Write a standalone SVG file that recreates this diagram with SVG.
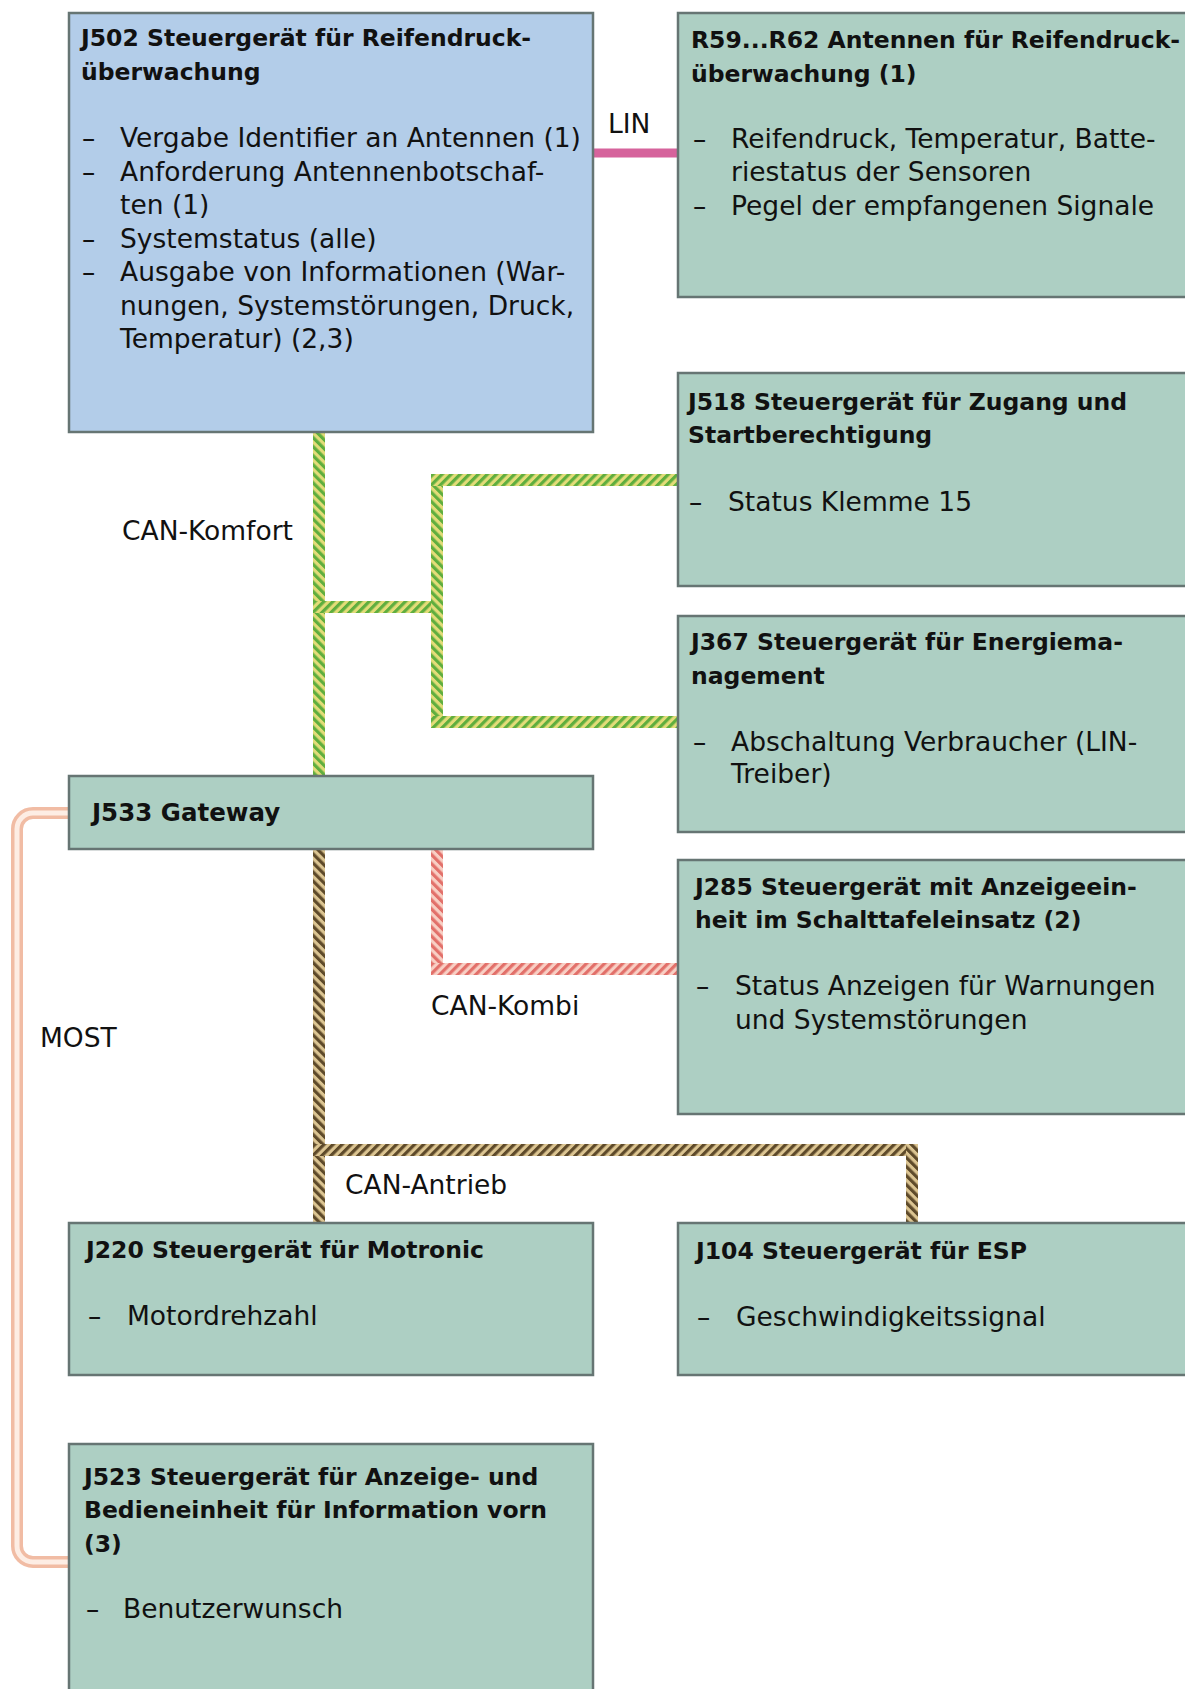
<svg xmlns="http://www.w3.org/2000/svg" width="1185" height="1689" viewBox="0 0 1185 1689">
<style>
.box{fill:#adcfc3;stroke:#667573;stroke-width:2.5}
.blue{fill:#b3cde9}
.t{font-family:"DejaVu Sans",sans-serif;font-weight:bold;font-size:23.5px;fill:#111}
.b{font-family:"DejaVu Sans",sans-serif;font-size:26.5px;fill:#111}
.l{font-family:"DejaVu Sans",sans-serif;font-size:26.5px;fill:#111}
</style>
<defs>
<pattern id="komH" patternUnits="userSpaceOnUse" width="6.4" height="6.4" patternTransform="rotate(45)"><rect width="6.4" height="6.4" fill="#e3dc78"/><rect width="3.2" height="6.4" fill="#5fae3e"/></pattern>
<pattern id="komV" patternUnits="userSpaceOnUse" width="6.4" height="6.4" patternTransform="rotate(-45)"><rect width="6.4" height="6.4" fill="#e3dc78"/><rect width="3.2" height="6.4" fill="#5fae3e"/></pattern>
<pattern id="antH" patternUnits="userSpaceOnUse" width="6.4" height="6.4" patternTransform="rotate(45)"><rect width="6.4" height="6.4" fill="#dcc592"/><rect width="3.2" height="6.4" fill="#5e4a2a"/></pattern>
<pattern id="antV" patternUnits="userSpaceOnUse" width="6.4" height="6.4" patternTransform="rotate(-45)"><rect width="6.4" height="6.4" fill="#dcc592"/><rect width="3.2" height="6.4" fill="#5e4a2a"/></pattern>
<pattern id="kbH" patternUnits="userSpaceOnUse" width="6.4" height="6.4" patternTransform="rotate(45)"><rect width="6.4" height="6.4" fill="#f8cfc4"/><rect width="3.2" height="6.4" fill="#e2706a"/></pattern>
<pattern id="kbV" patternUnits="userSpaceOnUse" width="6.4" height="6.4" patternTransform="rotate(-45)"><rect width="6.4" height="6.4" fill="#f8cfc4"/><rect width="3.2" height="6.4" fill="#e2706a"/></pattern>
</defs>
<rect width="1185" height="1689" fill="#ffffff"/>

<g id="connectors">
  <!-- LIN -->
  <line x1="593" y1="153" x2="678" y2="153" stroke="#d6639c" stroke-width="9"/>
  <!-- MOST -->
  <path d="M 69 813 H 33 A 16 16 0 0 0 17 829 V 1546 A 16 16 0 0 0 33 1562 H 69" fill="none" stroke="#f1bca4" stroke-width="12"/>
  <path d="M 69 813 H 33 A 16 16 0 0 0 17 829 V 1546 A 16 16 0 0 0 33 1562 H 69" fill="none" stroke="#fdede4" stroke-width="5"/>
  <!-- CAN-Komfort -->
  <rect x="313" y="432" width="12" height="344" fill="url(#komV)"/>
  <rect x="313" y="601" width="124" height="12" fill="url(#komH)"/>
  <rect x="431" y="474" width="12" height="254" fill="url(#komV)"/>
  <rect x="431" y="474" width="247" height="12" fill="url(#komH)"/>
  <rect x="431" y="716" width="247" height="12" fill="url(#komH)"/>
  <!-- CAN-Antrieb -->
  <rect x="313" y="849" width="12" height="374" fill="url(#antV)"/>
  <rect x="313" y="1144" width="605" height="12" fill="url(#antH)"/>
  <rect x="906" y="1144" width="12" height="79" fill="url(#antV)"/>
  <!-- CAN-Kombi -->
  <rect x="431" y="849" width="12" height="126" fill="url(#kbV)"/>
  <rect x="431" y="963" width="247" height="12" fill="url(#kbH)"/>
  <!-- labels -->
  <text class="l" x="608" y="133">LIN</text>
  <text class="l" x="122" y="540">CAN-Komfort</text>
  <text class="l" x="431" y="1015">CAN-Kombi</text>
  <text class="l" x="345" y="1194">CAN-Antrieb</text>
  <text class="l" x="40" y="1047">MOST</text>
</g>

<g id="J502">
  <rect class="box blue" x="69" y="13" width="524" height="419"/>
  <text class="t" x="81" y="46">J502 Steuergerät für Reifendruck-</text>
  <text class="t" x="81" y="80">überwachung</text>
  <text class="b" x="82" y="147">–</text><text class="b" x="120" y="147">Vergabe Identifier an Antennen (1)</text>
  <text class="b" x="82" y="180.5">–</text><text class="b" x="120" y="180.5">Anforderung Antennenbotschaf-</text>
  <text class="b" x="120" y="214">ten (1)</text>
  <text class="b" x="82" y="247.5">–</text><text class="b" x="120" y="247.5">Systemstatus (alle)</text>
  <text class="b" x="82" y="281">–</text><text class="b" x="120" y="281">Ausgabe von Informationen (War-</text>
  <text class="b" x="120" y="314.5">nungen, Systemstörungen, Druck,</text>
  <text class="b" x="120" y="348">Temperatur) (2,3)</text>
</g>

<g id="R59">
  <rect class="box" x="678" y="13" width="520" height="284"/>
  <text class="t" x="691" y="48">R59...R62 Antennen für Reifendruck-</text>
  <text class="t" x="691" y="82">überwachung (1)</text>
  <text class="b" x="693" y="148">–</text><text class="b" x="731" y="148">Reifendruck, Temperatur, Batte-</text>
  <text class="b" x="731" y="181">riestatus der Sensoren</text>
  <text class="b" x="693" y="215">–</text><text class="b" x="731" y="215">Pegel der empfangenen Signale</text>
</g>

<g id="J518">
  <rect class="box" x="678" y="373" width="520" height="213"/>
  <text class="t" x="688" y="410">J518 Steuergerät für Zugang und</text>
  <text class="t" x="688" y="443">Startberechtigung</text>
  <text class="b" x="689" y="511">–</text><text class="b" x="728" y="511">Status Klemme 15</text>
</g>

<g id="J367">
  <rect class="box" x="678" y="616" width="520" height="216"/>
  <text class="t" x="691" y="650">J367 Steuergerät für Energiema-</text>
  <text class="t" x="691" y="684">nagement</text>
  <text class="b" x="693" y="751">–</text><text class="b" x="731" y="751">Abschaltung Verbraucher (LIN-</text>
  <text class="b" x="731" y="783">Treiber)</text>
</g>

<g id="J533">
  <rect class="box" x="69" y="776" width="524" height="73"/>
  <text class="t" x="92" y="821" style="font-size:24.5px">J533 Gateway</text>
</g>

<g id="J285">
  <rect class="box" x="678" y="860" width="520" height="254"/>
  <text class="t" x="695" y="895">J285 Steuergerät mit Anzeigeein-</text>
  <text class="t" x="695" y="928">heit im Schalttafeleinsatz (2)</text>
  <text class="b" x="696" y="995">–</text><text class="b" x="735" y="995">Status Anzeigen für Warnungen</text>
  <text class="b" x="735" y="1029">und Systemstörungen</text>
</g>

<g id="J220">
  <rect class="box" x="69" y="1223" width="524" height="152"/>
  <text class="t" x="86" y="1258">J220 Steuergerät für Motronic</text>
  <text class="b" x="88" y="1325">–</text><text class="b" x="127" y="1325">Motordrehzahl</text>
</g>

<g id="J104">
  <rect class="box" x="678" y="1223" width="520" height="152"/>
  <text class="t" x="696" y="1259">J104 Steuergerät für ESP</text>
  <text class="b" x="697" y="1326">–</text><text class="b" x="736" y="1326">Geschwindigkeitssignal</text>
</g>

<g id="J523">
  <rect class="box" x="69" y="1444" width="524" height="260"/>
  <text class="t" x="84" y="1485">J523 Steuergerät für Anzeige- und</text>
  <text class="t" x="84" y="1518">Bedieneinheit für Information vorn</text>
  <text class="t" x="84" y="1552">(3)</text>
  <text class="b" x="86" y="1618">–</text><text class="b" x="123" y="1618">Benutzerwunsch</text>
</g>
</svg>
